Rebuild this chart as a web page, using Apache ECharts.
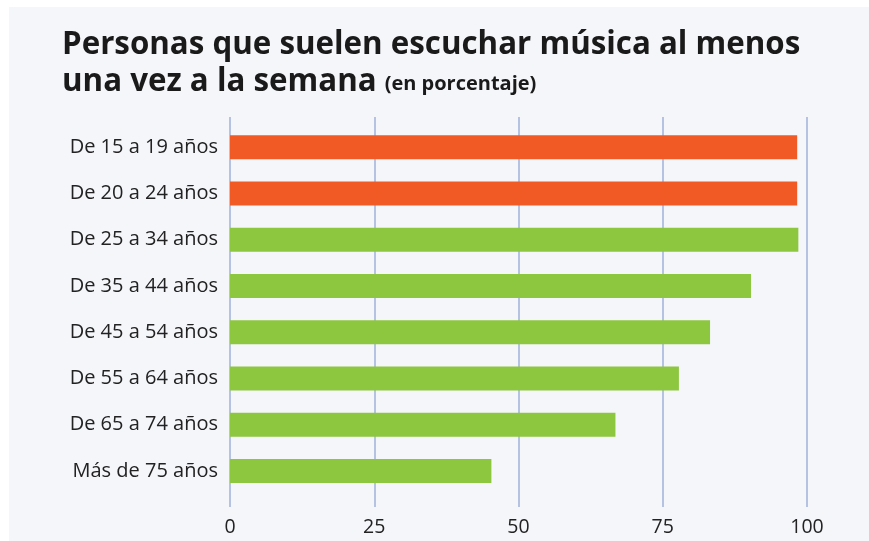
<!DOCTYPE html>
<html><head><meta charset="utf-8">
<script src="https://cdn.jsdelivr.net/npm/echarts@6/dist/echarts.min.js"></script>
<style>html,body{margin:0;padding:0;background:#fff}#c{width:869px;height:541px}</style>
</head><body><div id="c"></div>
<script>
const categories = ["De 15 a 19 años","De 20 a 24 años","De 25 a 34 años","De 35 a 44 años","De 45 a 54 años","De 55 a 64 años","De 65 a 74 años","Más de 75 años"];
const values = [98.3, 98.3, 98.5, 90.3, 83.2, 77.8, 66.8, 45.3];
const highlight = [true, true, false, false, false, false, false, false];
const xTicks = [0, 25, 50, 75, 100];

const ORANGE = '#f15a24', GREEN = '#8dc63f';
const FONT = 'Open Sans';
const chart = echarts.init(document.getElementById('c'), null, {renderer:'canvas'});
const L = 230, R = 869 - 807;
chart.setOption({
  backgroundColor: '#ffffff',
  animation: false,
  graphic: [{type:'rect', z:-10, shape:{x:9,y:7,width:860,height:534}, style:{fill:'#f5f6fa'}}],
  title: {
    left: 57, top: 19,
    text: '{a|Personas que suelen escuchar música al menos}\n{a|una vez a la semana} {b|(en porcentaje)}',
    textStyle: {
      rich: {
        a: {fontFamily: FONT, fontWeight: 'bold', fontSize: 31.3, color: '#1a1a1a', lineHeight: 37, verticalAlign:'bottom'},
        b: {fontFamily: FONT, fontWeight: 'bold', fontSize: 20, color: '#1a1a1a', lineHeight: 37, verticalAlign:'bottom', padding:[0,0,4,3]}
      }
    }
  },
  grid: [
    {left: L, right: R, top: 117, bottom: 541 - 507},
    {left: L, right: R, top: 124, bottom: 541 - 494}
  ],
  xAxis: [
    {gridIndex: 0, type: 'value', min: xTicks[0], max: xTicks[xTicks.length-1], interval: 25,
     axisLine:{show:false}, axisTick:{show:false},
     axisLabel:{fontFamily: FONT, fontSize: 19.5, color:'#222', margin: 10},
     splitLine:{show:true, lineStyle:{color:'#9fb1d8', width:1.5}}},
    {gridIndex: 1, type: 'value', min: 0, max: 100, show: false}
  ],
  yAxis: [
    {gridIndex: 0, type: 'value', show: false},
    {gridIndex: 1, type: 'category', inverse: true, data: categories,
     axisLine:{show:false}, axisTick:{show:false},
     axisLabel:{fontFamily: FONT, fontSize: 20, color:'#222', margin: 12}}
  ],
  series: [{
    type: 'bar', xAxisIndex: 1, yAxisIndex: 1, barWidth: 24,
    data: values.map((v,i)=>({value:v, itemStyle:{color: highlight[i]?ORANGE:GREEN}})),
    z: 1
  }]
});
</script></body></html>
